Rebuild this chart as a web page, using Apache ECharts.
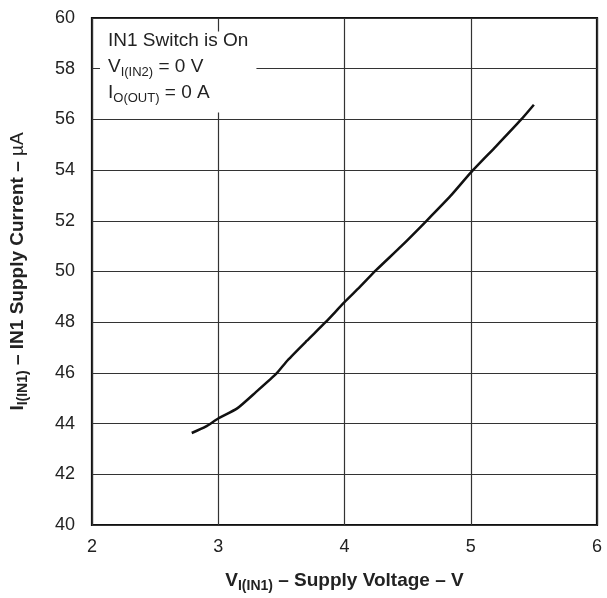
<!DOCTYPE html>
<html><head><meta charset="utf-8">
<script src="https://cdn.jsdelivr.net/npm/echarts@6/dist/echarts.min.js"></script>
<style>html,body{margin:0;padding:0;background:#fff}#c{width:607px;height:598px}</style>
</head><body><div id="c"></div>
<script>
var voltage = [2.79, 2.9, 3.0, 3.15, 3.3, 3.46, 3.55, 3.7, 3.85, 4.0, 4.12, 4.25, 4.45, 4.65, 4.84, 5.0, 5.2, 5.4, 5.5];
var current = [43.63, 43.88, 44.2, 44.6, 45.25, 45.97, 46.5, 47.26, 48.0, 48.79, 49.38, 50.05, 51.0, 52.0, 52.98, 53.9, 54.94, 56.0, 56.58];
var xTicks = [2, 3, 4, 5, 6];
var yTicks = [40, 42, 44, 46, 48, 50, 52, 54, 56, 58, 60];

var FONT = '"Liberation Sans", Arial, Helvetica, sans-serif';
var chart = echarts.init(document.getElementById('c'), null, {renderer: 'canvas'});
chart.setOption({
  animation: false,
  backgroundColor: '#fff',
  grid: {left: 92, right: 10, top: 18, bottom: 71, show: true, borderColor: '#111', borderWidth: 2.2},
  title: {
    left: 100, top: 28,
    padding: [0, 8, 8, 8],
    backgroundColor: '#fff',
    text: '{a|IN1 Switch is On}\n{a|V}{s|I(IN2)}{a| = 0 V}\n{a|I}{s|O(OUT)}{a| = 0 A}',
    textStyle: {
      fontWeight: 'normal',
      rich: {
        a: {fontFamily: FONT, fontSize: 19, fontWeight: 'normal', color: '#222', lineHeight: 26},
        s: {fontFamily: FONT, fontSize: 13, fontWeight: 'normal', color: '#222', lineHeight: 26, padding: [10, 0, 0, 0]}
      }
    }
  },
  xAxis: {
    type: 'value', min: xTicks[0], max: xTicks[xTicks.length - 1], interval: 1,
    axisLine: {show: false}, axisTick: {show: false},
    splitLine: {show: true, lineStyle: {color: '#333', width: 1.2}},
    axisLabel: {fontFamily: FONT, fontSize: 18, color: '#222', margin: 13},
    name: '{b|V}{bs|I(IN1)}{b| – Supply Voltage – V}',
    nameLocation: 'middle', nameGap: 44,
    nameTextStyle: {
      rich: {
        b: {fontFamily: FONT, fontSize: 19, fontWeight: 'bold', color: '#222'},
        bs: {fontFamily: FONT, fontSize: 14, fontWeight: 'bold', color: '#222', padding: [10, 0, 0, 0]}
      }
    }
  },
  yAxis: {
    type: 'value', min: yTicks[0], max: yTicks[yTicks.length - 1], interval: 2,
    axisLine: {show: false},
    axisTick: {show: false},
    splitLine: {show: true, lineStyle: {color: '#333', width: 1.2}},
    axisLabel: {fontFamily: FONT, fontSize: 18, color: '#222', margin: 17},
    name: '{b|I}{bs|I(IN1)}{b| – IN1 Supply Current – }{m|µA}',
    nameLocation: 'middle', nameGap: 62,
    nameTextStyle: {
      rich: {
        b: {fontFamily: FONT, fontSize: 19, fontWeight: 'bold', color: '#222'},
        m: {fontFamily: FONT, fontSize: 19, fontWeight: 'normal', color: '#222'},
        bs: {fontFamily: FONT, fontSize: 14, fontWeight: 'bold', color: '#222', padding: [10, 0, 0, 0]}
      }
    }
  },
  series: [{
    type: 'line', showSymbol: false, smooth: 0.2,
    data: voltage.map(function (v, i) { return [v, current[i]]; }),
    lineStyle: {color: '#111', width: 2.5}
  }]
});
</script></body></html>
